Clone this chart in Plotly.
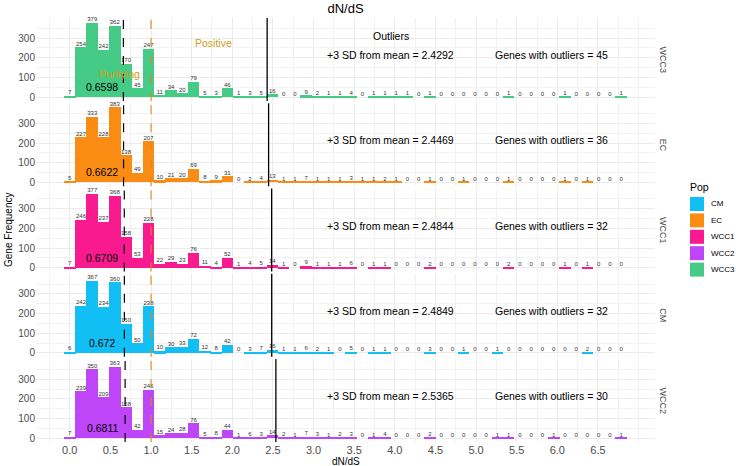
import numpy as np
import plotly.graph_objects as go
from plotly.subplots import make_subplots

# ---------------- data ----------------
facet_pops = ["WCC3", "EC", "WCC1", "CM", "WCC2"]
legend_pops = ["CM", "EC", "WCC1", "WCC2", "WCC3"]

n_bins = 50
bin_width = 0.1385  # ggplot bins=50 over dN/dS range 0 .. ~6.79

counts_WCC3 = [7, 254, 379, 242, 362, 170, 45, 247, 11, 34, 20, 79, 5, 3, 46, 1, 3, 5, 16,
               0, 0, 9, 2, 1, 1, 4, 0, 1, 1, 1, 1, 0, 1, 0, 0, 0, 0, 0, 0, 1, 0, 0, 0, 0, 1, 0, 0, 0, 0, 1]
counts_EC = [5, 227, 333, 228, 383, 138, 49, 207, 10, 21, 20, 69, 8, 9, 31, 0, 2, 4, 13,
             1, 1, 7, 1, 1, 1, 3, 1, 1, 2, 1, 0, 0, 1, 0, 0, 1, 0, 0, 0, 1, 0, 0, 0, 0, 1, 0, 1, 0, 0, 0]
counts_WCC1 = [7, 246, 377, 237, 368, 158, 53, 228, 22, 29, 23, 76, 11, 4, 52, 1, 4, 5, 14,
               1, 0, 9, 1, 1, 1, 6, 0, 1, 1, 0, 0, 0, 2, 0, 0, 0, 0, 0, 0, 2, 0, 0, 0, 0, 1, 0, 1, 0, 0, 0]
counts_CM = [6, 242, 367, 234, 360, 150, 50, 238, 10, 30, 33, 72, 12, 8, 42, 0, 3, 7, 16,
             1, 1, 6, 2, 1, 0, 5, 0, 1, 1, 0, 0, 0, 3, 0, 0, 1, 0, 0, 1, 0, 0, 0, 0, 0, 0, 0, 2, 0, 0, 0]
counts_WCC2 = [7, 239, 350, 209, 363, 158, 42, 246, 15, 24, 28, 76, 5, 8, 44, 1, 6, 3, 14,
               2, 1, 7, 3, 1, 2, 3, 0, 1, 4, 0, 0, 0, 2, 0, 0, 0, 0, 0, 1, 1, 0, 0, 0, 1, 0, 0, 0, 0, 0, 1]

counts = {"WCC3": counts_WCC3, "EC": counts_EC, "WCC1": counts_WCC1,
          "CM": counts_CM, "WCC2": counts_WCC2}

mean_vals = {"WCC3": 0.6598, "EC": 0.6622, "WCC1": 0.6709, "CM": 0.672, "WCC2": 0.6811}
sd3_vals = {"WCC3": 2.4292, "EC": 2.4469, "WCC1": 2.4844, "CM": 2.4849, "WCC2": 2.5365}
genes_outliers = {"WCC3": 45, "EC": 36, "WCC1": 32, "CM": 32, "WCC2": 30}

neutral_line = 1.0
x_ticks = [0.0, 0.5, 1.0, 1.5, 2.0, 2.5, 3.0, 3.5, 4.0, 4.5, 5.0, 5.5, 6.0, 6.5]
y_ticks = [0, 100, 200, 300]

colors = {"CM": "#12BFF5", "EC": "#FA8C14", "WCC1": "#F81A8E", "WCC2": "#BE45F8", "WCC3": "#45CB85"}
gold = "#CF9E24"
orange_line = "#DB8A1E"
font_family = "Liberation Sans, Arial, sans-serif"

# page geometry (pixels)
W, H = 736, 466
ML, MR, MT, MB = 36, 81, 18, 24
PW, PH = W - ML - MR, H - MT - MB


def px_x(px):
    return (px - ML) / PW


def px_y(py):
    return (H - MB - py) / PH


# ---------------- figure ----------------
fig = make_subplots(rows=5, cols=1, shared_xaxes=True, vertical_spacing=0.0055)

bin_centers = np.arange(n_bins) * bin_width
row_of = {p: i + 1 for i, p in enumerate(facet_pops)}

for p in legend_pops:
    r = row_of[p]
    fig.add_trace(go.Bar(x=bin_centers, y=counts[p], width=bin_width * 1.03, name=p,
                         marker=dict(color=colors[p], line=dict(width=0)),
                         showlegend=False, hoverinfo="skip"), row=r, col=1)
for p in facet_pops:
    r = row_of[p]
    fig.add_trace(go.Scatter(x=bin_centers, y=counts[p], mode="text",
                             text=[str(c) for c in counts[p]], textposition="top center",
                             textfont=dict(size=6, color="#333333", family=font_family),
                             showlegend=False, hoverinfo="skip", cliponaxis=False), row=r, col=1)

shapes = []
annotations = []
for p in facet_pops:
    r = row_of[p]
    xr = "x" if r == 1 else f"x{r}"
    yr = "y" if r == 1 else f"y{r}"
    shapes.append(dict(type="line", xref=xr, yref=yr + " domain", x0=mean_vals[p], x1=mean_vals[p],
                       y0=0, y1=1, line=dict(color="black", width=1.2, dash="dash")))
    shapes.append(dict(type="line", xref=xr, yref=yr + " domain", x0=neutral_line, x1=neutral_line,
                       y0=0, y1=1, line=dict(color=orange_line, width=1.1, dash="dash")))
    shapes.append(dict(type="line", xref=xr, yref=yr + " domain", x0=sd3_vals[p], x1=sd3_vals[p],
                       y0=0, y1=1, line=dict(color="black", width=1.3)))
    annotations.append(dict(xref=xr, yref=yr, x=0.40, y=51, text=str(mean_vals[p]), showarrow=False,
                            font=dict(size=10.5, color="black", family=font_family)))
    annotations.append(dict(xref=xr, yref=yr, x=3.95, y=213,
                            text=f"+3 SD from mean = {sd3_vals[p]}", showarrow=False,
                            font=dict(size=10.5, color="black", family=font_family)))
    annotations.append(dict(xref=xr, yref=yr, x=5.93, y=213,
                            text=f"Genes with outliers = {genes_outliers[p]}", showarrow=False,
                            font=dict(size=10.5, color="black", family=font_family)))
    annotations.append(dict(xref="paper", yref=yr + " domain", x=px_x(663), y=0.5, text=p,
                            textangle=90, showarrow=False, xanchor="center", yanchor="middle",
                            font=dict(size=9, color="#4D4D4D", family=font_family)))

annotations.append(dict(xref="x", yref="y", x=3.95, y=310, text="Outliers", showarrow=False,
                        font=dict(size=10.5, color="black", family=font_family)))
annotations.append(dict(xref="x", yref="y", x=1.77, y=274, text="Positive", showarrow=False,
                        font=dict(size=10.5, color=gold, family=font_family)))
annotations.append(dict(xref="x", yref="y", x=0.61, y=117, text="Purifying", showarrow=False,
                        font=dict(size=10.5, color=gold, family=font_family)))
annotations.append(dict(xref="paper", yref="paper", x=px_x(8), y=0.5, text="Gene Frequency",
                        textangle=-90, showarrow=False, xanchor="center", yanchor="middle",
                        font=dict(size=10, color="black", family=font_family)))
annotations.append(dict(xref="x5", yref="paper", x=3.4, y=0, yshift=-12, text="dN/dS",
                        showarrow=False, yanchor="top",
                        font=dict(size=10, color="black", family=font_family)))

# legend (ggplot-style, drawn in paper coordinates)
annotations.append(dict(xref="paper", yref="paper", x=px_x(688), y=px_y(187), text="Pop",
                        showarrow=False, xanchor="left", yanchor="middle",
                        font=dict(size=10.5, color="black", family=font_family)))
leg_y0 = 204
leg_step = 16.4
for i, p in enumerate(legend_pops):
    cy = leg_y0 + i * leg_step
    shapes.append(dict(type="rect", xref="paper", yref="paper", x0=px_x(690), x1=px_x(704),
                       y0=px_y(cy - 7), y1=px_y(cy + 7), fillcolor=colors[p], line=dict(width=0)))
    annotations.append(dict(xref="paper", yref="paper", x=px_x(709), y=px_y(cy), text=p,
                            showarrow=False, xanchor="left", yanchor="middle",
                            font=dict(size=8, color="black", family=font_family)))

ymax = max(max(v) for v in counts.values())
yrange = [-0.05 * ymax, 1.05 * ymax]
xlo = -bin_width / 2
xhi = bin_centers[-1] + bin_width / 2
xpad = 0.05 * (xhi - xlo)

for r in range(1, 6):
    fig.update_yaxes(row=r, col=1, range=yrange, tickvals=y_ticks, ticktext=[str(t) for t in y_ticks],
                     showgrid=True, gridcolor="#EBEBEB", gridwidth=1, zeroline=False,
                     minor=dict(dtick=50, showgrid=True, gridcolor="#F2F2F2", gridwidth=0.5, tick0=0),
                     tickfont=dict(size=10, color="#4D4D4D", family=font_family), ticks="",
                     showline=False)
    fig.update_xaxes(row=r, col=1, range=[xlo - xpad, xhi + xpad], tickvals=x_ticks,
                     ticktext=[f"{t:.1f}" for t in x_ticks],
                     showgrid=True, gridcolor="#EBEBEB", gridwidth=1, zeroline=False,
                     minor=dict(dtick=0.25, tick0=0, showgrid=True, gridcolor="#F2F2F2", gridwidth=0.5),
                     tickfont=dict(size=11, color="#4D4D4D", family=font_family), ticks="",
                     showline=False, showticklabels=(r == 5))

fig.update_layout(
    width=W, height=H,
    margin=dict(l=ML, r=MR, t=MT, b=MB, autoexpand=False),
    paper_bgcolor="white", plot_bgcolor="white",
    barmode="overlay", bargap=0,
    title=dict(text="dN/dS", x=(36 + 655) / 2 / W, xanchor="center", y=1 - 8 / H,
               yanchor="middle", yref="container",
               font=dict(size=13, color="black", family=font_family)),
    showlegend=False,
    shapes=shapes, annotations=annotations,
    font=dict(family=font_family),
)

fig.write_html("out.html")
